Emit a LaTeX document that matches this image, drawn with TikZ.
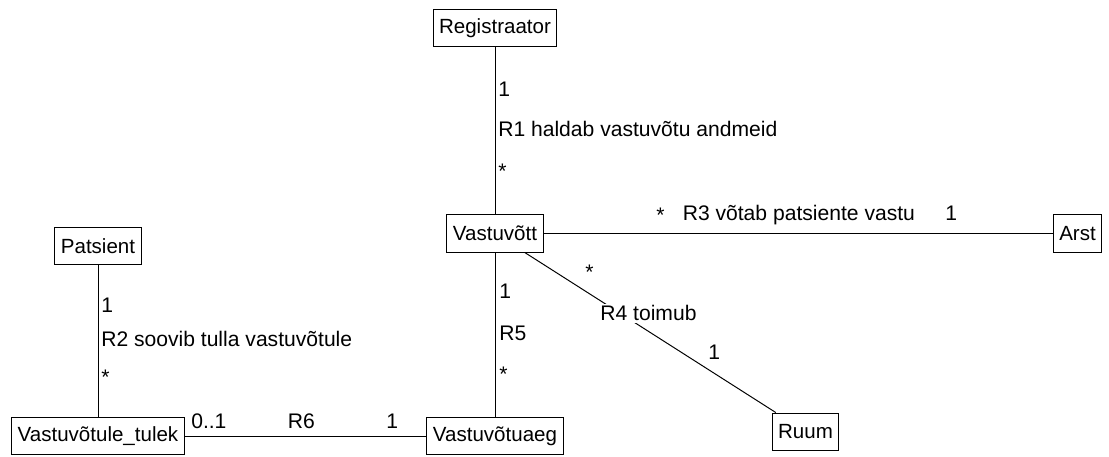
\documentclass[tikz,border=0pt]{standalone}
\usepackage{fontspec}
\setmainfont{Liberation Sans}
\tikzset{
cls/.style = {draw, line width=0.7pt, inner xsep=0.15cm, inner ysep=0pt,
              minimum height=0.925cm, font=\fontsize{14.6}{17}\selectfont},
lbl/.style = {anchor=base west, inner sep=0pt,
              font=\fontsize{15}{17}\selectfont},
assoc/.style = {line width=0.7pt} % plain association line
}

\begin{document}
\begin{tikzpicture}[x=0.025cm, y=-0.025cm]
	\useasboundingbox (0,0) rectangle (1109,457);

	% Classes
	\node[cls] (reg)   at (495,28)      {Registraator};
	\node[cls] (vas)   at (495,233.5)   {Vastuvõtt};
	\node[cls] (arst)  at (1077.5,233.5) {Arst};
	\node[cls] (pat)   at (98,246)      {Patsient};
	\node[cls] (tulek) at (98,436)      {Vastuvõtule\_tulek};
	\node[cls] (aeg)   at (495,436)     {Vastuvõtuaeg};
	\node[cls] (ruum)  at (805.5,431.5) {Ruum};

	% Associations
	\draw[assoc] (reg) -- (vas);   % R1
	\draw[assoc] (pat) -- (tulek); % R2
	\draw[assoc] (vas) -- (arst);  % R3
	\draw[assoc] (vas) -- (ruum);  % R4
	\draw[assoc] (vas) -- (aeg);   % R5
	\draw[assoc] (tulek) -- (aeg); % R6

	% R1
	\node[lbl] (r1a) at (498,97)  {1};
	\node[lbl] (r1)  at (498,137) {R1 haldab vastuvõtu andmeid};
	\node[lbl] (r1b) at (498,178.5) {*};

	% R2
	\node[lbl] (r2a) at (101,313) {1};
	\node[lbl] (r2)  at (101,347) {R2 soovib tulla vastuvõtule};
	\node[lbl] (r2b) at (101,385) {*};

	% R3
	\node[lbl] (r3a) at (656,222.5) {*};
	\node[lbl] (r3)  at (682.5,221) {R3 võtab patsiente vastu};
	\node[lbl] (r3b) at (945,221)   {1};

	% R4
	\node[lbl] (r4a) at (585,280) {*};
	\node[lbl, fill=white, inner sep=1.5pt] (r4) at (598,321) {R4 toimub};
	\node[lbl] (r4b) at (708,360) {1};

	% R5
	\node[lbl] (r5a) at (499,299) {1};
	\node[lbl] (r5)  at (499,341) {R5};
	\node[lbl] (r5b) at (499,382) {*};

	% R6
	\node[lbl] (r6a) at (191,429)   {0..1};
	\node[lbl] (r6)  at (287.5,429) {R6};
	\node[lbl] (r6b) at (386,429)   {1};

\end{tikzpicture}
\end{document}
